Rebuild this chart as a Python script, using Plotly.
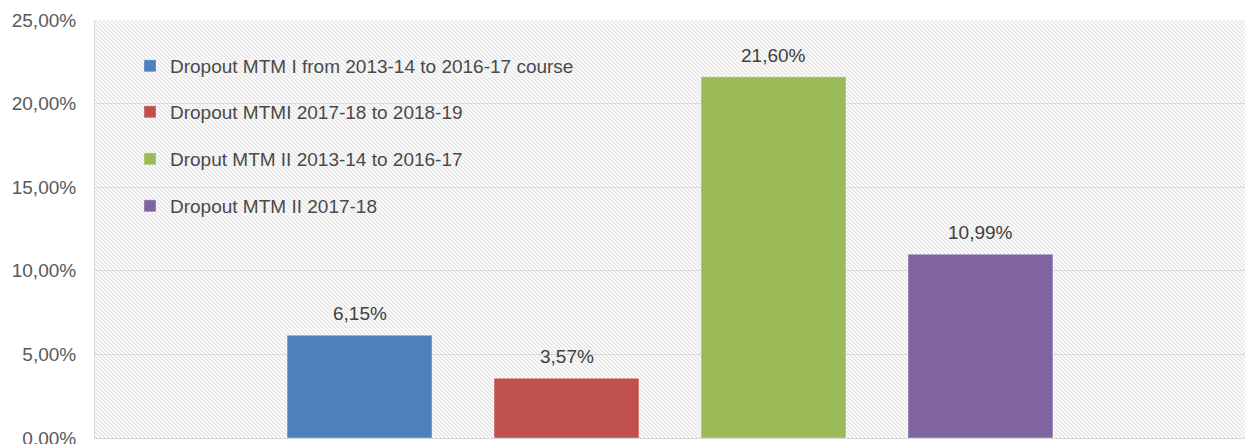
import base64
import plotly.graph_objects as go

series_names = [
    "Dropout MTM I from 2013-14 to 2016-17 course",
    "Dropout MTMI 2017-18 to 2018-19",
    "Droput MTM II 2013-14 to 2016-17",
    "Dropout MTM II 2017-18",
]
values = [0.0615, 0.0357, 0.2160, 0.1099]
colors = ["#4F81BD", "#C0504D", "#9BBB59", "#8064A2"]
tick_vals = [0, 0.05, 0.10, 0.15, 0.20, 0.25]

W, H = 1245, 444
ML, MR, MT, MB = 95, 0, 20, 6
PW, PH = W - ML - MR, H - MT - MB
FONT = "Liberation Sans, Arial, sans-serif"
FS = 19

svg = f'''<svg xmlns="http://www.w3.org/2000/svg" width="{PW}" height="{PH}">
<defs><pattern id="p" patternUnits="userSpaceOnUse" width="4" height="4">
<rect width="4" height="4" fill="#ffffff"/>
<path d="M-1,-1 L5,5 M-1,3 L1,5 M3,-1 L5,1" stroke="#dedede" stroke-width="1.1"/>
</pattern></defs>
<rect width="{PW}" height="{PH}" fill="url(#p)"/>
</svg>'''
src = "data:image/svg+xml;base64," + base64.b64encode(svg.encode()).decode()

fig = go.Figure()
legend_ids = ["legend", "legend2", "legend3", "legend4"]
positions = list(range(len(values)))
for name, v, c, lg, xpos in zip(series_names, values, colors, legend_ids, positions):
    fig.add_trace(go.Bar(
        x=[xpos], y=[v], name=name, width=0.70,
        marker=dict(color=c, line=dict(color="rgba(255,255,255,0.35)", width=1)),
        legend=lg, hoverinfo="skip",
    ))
    fig.add_annotation(
        x=xpos, y=v, xref="x", yref="y", text=f"{v*100:.2f}%".replace(".", ","),
        showarrow=False, yanchor="bottom", yshift=9,
        font=dict(size=FS, color="#404040", family=FONT),
    )

legend_rows_px = [66, 112, 159, 206]
layout_legends = {}
for lg, ypx in zip(legend_ids, legend_rows_px):
    layout_legends[lg] = dict(
        x=(130 - ML) / PW, xanchor="left",
        y=(H - MB - ypx) / PH, yanchor="middle",
        bgcolor="rgba(0,0,0,0)", borderwidth=0,
        font=dict(size=FS, color="#4a4a4a", family=FONT),
    )

fig.update_layout(
    width=W, height=H,
    margin=dict(l=ML, r=MR, t=MT, b=MB, autoexpand=False),
    paper_bgcolor="white", plot_bgcolor="rgba(0,0,0,0)",
    separators=",.",
    showlegend=True,
    images=[dict(source=src, xref="paper", yref="paper", x=0, y=1,
                 sizex=1, sizey=1, sizing="stretch", layer="below",
                 xanchor="left", yanchor="top")],
    **layout_legends,
)
fig.update_yaxes(
    range=[0, 0.25], tickvals=tick_vals, tickformat=".2%",
    showgrid=True, gridcolor="#d9d9d9", gridwidth=1,
    showline=True, linecolor="#d9d9d9", linewidth=1,
    zeroline=False, ticks="", ticklabelstandoff=14, ticklabeloverflow="allow",
    automargin=False,
    tickfont=dict(size=FS, color="#595959", family=FONT),
)
fig.update_xaxes(range=[-1.278, 4.278], showticklabels=False, showgrid=False,
                 zeroline=False, showline=True, linecolor="#d9d9d9", automargin=False)

fig.write_html("out.html", config={"displayModeBar": False},
               post_script="document.body.style.margin='0';document.body.style.overflow='hidden';")
